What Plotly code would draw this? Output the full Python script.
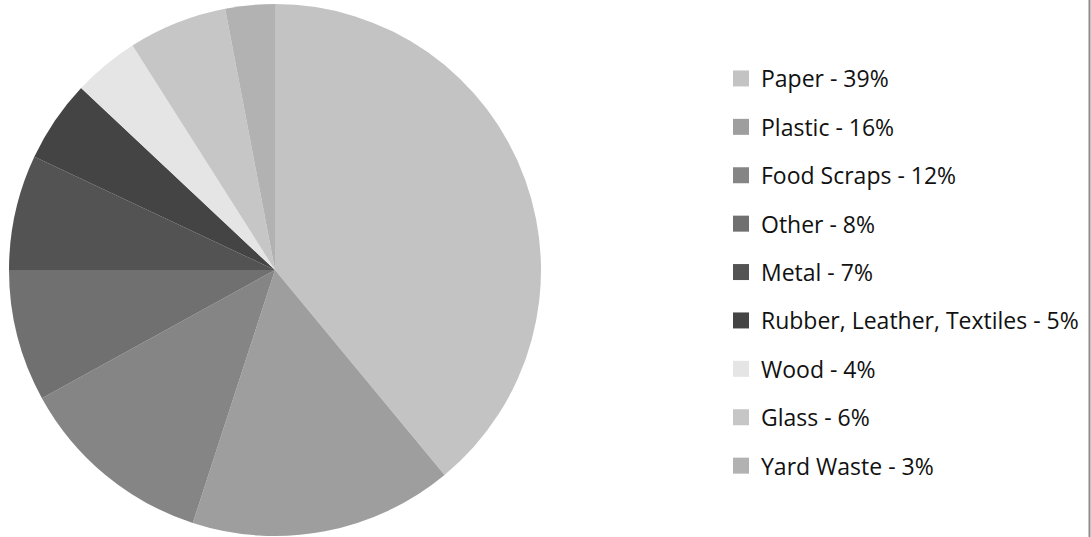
import plotly.graph_objects as go

categories = ["Paper", "Plastic", "Food Scraps", "Other", "Metal",
              "Rubber, Leather, Textiles", "Wood", "Glass", "Yard Waste"]
values = [39, 16, 12, 8, 7, 5, 4, 6, 3]
colors = ["#c3c3c3", "#9e9e9e", "#858585", "#707070", "#535353",
          "#444444", "#e5e5e5", "#c6c6c6", "#b2b2b2"]
legend_labels = [f"{c} - {v}%" for c, v in zip(categories, values)]

W, H = 1091, 537
cx, cy, r = 275, 270, 266

fig = go.Figure()
fig.add_trace(go.Pie(
    labels=categories, values=values, sort=False, direction="clockwise",
    rotation=0, marker=dict(colors=colors, line=dict(width=0)),
    textinfo="none", hoverinfo="label+percent", showlegend=False,
    domain=dict(x=[(cx - r) / W, (cx + r) / W], y=[1 - (cy + r) / H, 1 - (cy - r) / H]),
))
for lab, col in zip(legend_labels, colors):
    fig.add_trace(go.Scatter(
        x=[None], y=[None], mode="markers", name=lab, legendgroup=lab,
        marker=dict(symbol="square", size=16, color=col, line=dict(width=0)),
    ))

fig.update_layout(
    width=W, height=H, margin=dict(l=0, r=0, t=0, b=0),
    paper_bgcolor="white", plot_bgcolor="white",
    xaxis=dict(visible=False), yaxis=dict(visible=False),
    legend=dict(x=721 / W, y=1 - 57 / H, xanchor="left", yanchor="top",
                font=dict(family="Open Sans", size=23, color="#111111"),
                itemwidth=30,
                tracegroupgap=15.5, bgcolor="rgba(0,0,0,0)"),
    shapes=[dict(type="line", xref="paper", yref="paper", x0=1089.5 / W, x1=1089.5 / W,
                 y0=0, y1=1, line=dict(color="#8c8c8c", width=2))],
)
fig.write_html("out.html")
